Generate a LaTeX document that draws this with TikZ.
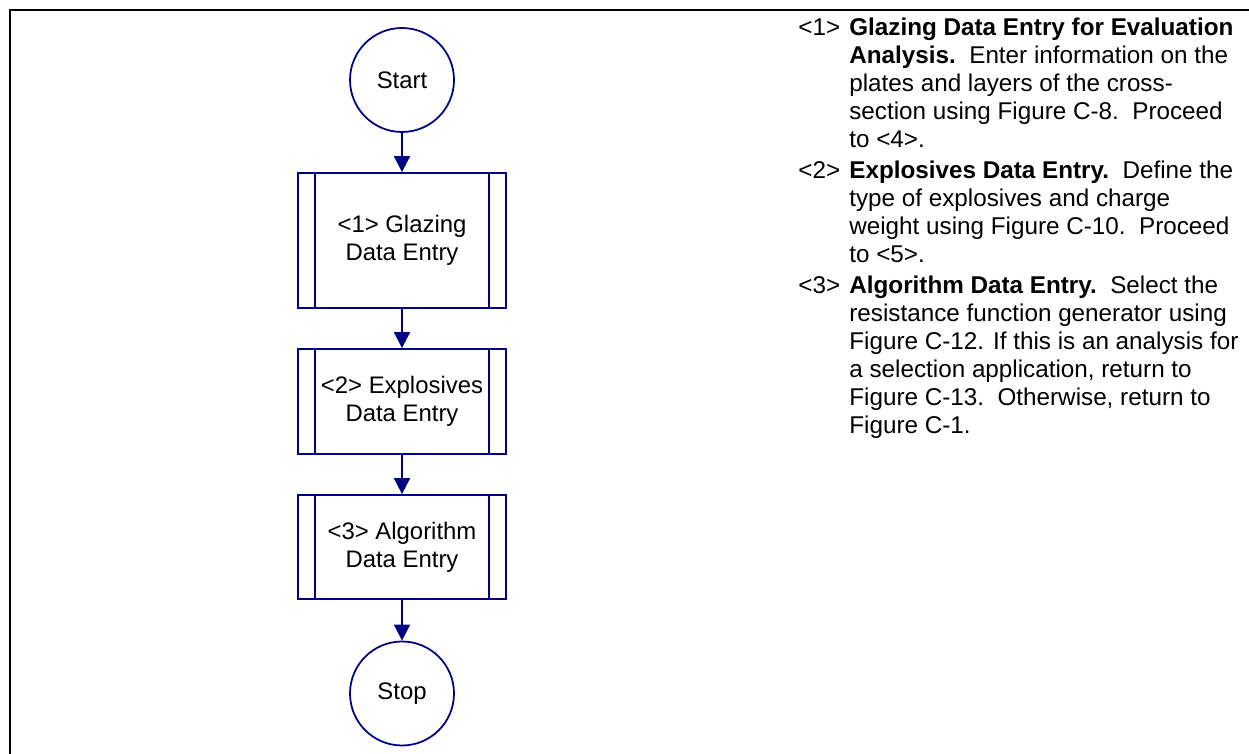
\documentclass[tikz,border=0pt]{standalone}
\usepackage{fontspec}
\setmainfont{Liberation Sans}
\usepackage{tikz}
\usetikzlibrary{
  arrows.meta,
  positioning
}
\definecolor{flownavy}{RGB}{0,0,128}
\tikzset{
  flow terminal/.style={
    circle,
    draw=flownavy,
    line width=1pt,
    minimum size=2.08cm,
    inner sep=0pt,
    font=\fontsize{13.6}{16}\selectfont
  },
  flow box/.style={
    rectangle,
    draw=flownavy,
    line width=1pt,
    minimum width=4.16cm,
    align=center,
    inner sep=0pt,
    font=\fontsize{13.6}{16}\selectfont,
    path picture={
      \draw[flownavy,line width=1pt]
        ([xshift=0.34cm]path picture bounding box.north west)
        -- ([xshift=0.34cm]path picture bounding box.south west)
        ([xshift=-0.34cm]path picture bounding box.north east)
        -- ([xshift=-0.34cm]path picture bounding box.south east);
    }
  },
  flow arrow/.style={
    draw=flownavy,
    line width=1pt,
    -{Triangle[length=0.32cm,width=0.32cm]}
  },
  note/.style={
    anchor=north west,
    inner sep=0pt,
    font=\fontsize{13.8}{15.9}\selectfont
  }
}

\begin{document}
\begin{tikzpicture}

    \useasboundingbox (0,0) rectangle (24.98,15.08);

    % ---------- 枠 ----------
    \draw[line width=1pt]
      (0.2,0) -- (0.2,14.88) -- (24.98,14.88);

    % ---------- 流れ図 ----------
    \node[flow terminal] (start) at (8.04,13.48) {Start};

    \node[flow box,minimum height=2.7cm] (glazing) at (8.04,10.27)
      {<1> Glazing\\Data Entry};

    \node[flow box,minimum height=2.1cm] (explosives) at (8.04,7.05)
      {<2> Explosives\\Data Entry};

    \node[flow box,minimum height=2.08cm] (algorithm) at (8.04,4.14)
      {<3> Algorithm\\Data Entry};

    \node[flow terminal] (stop) at (8.04,1.21) {Stop};

    % 矢印
    \draw[flow arrow] (start) -- (glazing);
    \draw[flow arrow] (glazing) -- (explosives);
    \draw[flow arrow] (explosives) -- (algorithm);
    \draw[flow arrow] (algorithm) -- (stop);

    % ---------- 説明 ----------
    \node[note] (note1) at (15.96,14.77) {%
      \begin{tabular}{@{}p{1.02cm}@{}l@{}}
        <1> & \textbf{Glazing Data Entry for Evaluation}\\
            & \textbf{Analysis.}\ \ Enter information on the\\
            & plates and layers of the cross-\\
            & section using Figure C-8.\ \ Proceed\\
            & to <4>.
      \end{tabular}};

    \node[note] (note2) at (15.96,11.90) {%
      \begin{tabular}{@{}p{1.02cm}@{}l@{}}
        <2> & \textbf{Explosives Data Entry.}\ \ Define the\\
            & type of explosives and charge\\
            & weight using Figure C-10.\ \ Proceed\\
            & to <5>.
      \end{tabular}};

    \node[note] (note3) at (15.96,9.60) {%
      \begin{tabular}{@{}p{1.02cm}@{}l@{}}
        <3> & \textbf{Algorithm Data Entry.}\ \ Select the\\
            & resistance function generator using\\
            & Figure C-12. If this is an analysis for\\
            & a selection application, return to\\
            & Figure C-13.\ \ Otherwise, return to\\
            & Figure C-1.
      \end{tabular}};

\end{tikzpicture}
\end{document}
